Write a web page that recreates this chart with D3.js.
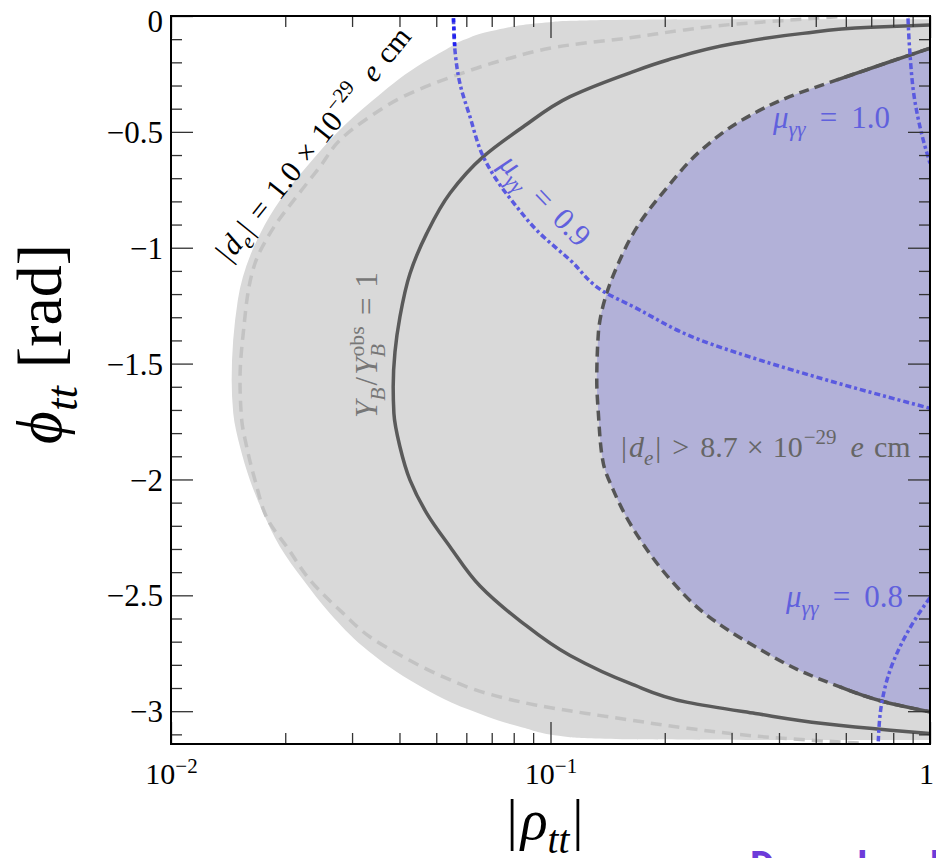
<!DOCTYPE html>
<html lang="en">
<head>
    <meta charset="UTF-8">
    <title>rho_tt phi_tt plane</title>
    <style>
        body{
            margin: 0;
            background: #fff;
        }
        svg{
            display: block;
        }
        .tick text{
            font-family: "Liberation Serif", "DejaVu Serif", serif;
            fill: #000;
        }
        .tick line{
            stroke: #333;
            stroke-width: 1.3px;
        }
    </style>
    <script src="https://d3js.org/d3.v7.min.js"></script>
</head>
<body>
<svg id="figure" width="936" height="858"></svg>
<script>
    // tick labels
    let phiTicks = [-3, -2.5, -2, -1.5, -1, -0.5, 0]
    let phiTickLabels = ["\u22123", "\u22122.5", "\u22122", "\u22121.5", "\u22121", "\u22120.5", "0"]
    let rhoTicks = [0.01, 0.1, 1]
    let rhoTickBase = ["10", "10", "1"]
    let rhoTickExp = ["\u22122", "\u22121", ""]

    // curves, [|rho_tt|, phi_tt], ordered from phi = 0 down to -pi
    let grayEdge = [
        [0.35, -0.014], [0.162, -0.016], [0.113, -0.021], [0.0997, -0.027], [0.0721, -0.06],
        [0.0589, -0.104], [0.0532, -0.144], [0.0444, -0.219], [0.0341, -0.363], [0.0273, -0.506],
        [0.0228, -0.65], [0.0194, -0.794], [0.0172, -0.937], [0.0150, -1.226], [0.01445, -1.571],
        [0.01459, -1.714], [0.0152, -1.859], [0.01615, -2.003], [0.01751, -2.146], [0.01937, -2.29],
        [0.02232, -2.434], [0.02624, -2.578], [0.03211, -2.722], [0.04264, -2.866], [0.06136, -2.995],
        [0.08309, -3.067], [0.1126, -3.112], [0.162, -3.121], [0.35, -3.124]
    ]
    let deLightLine = [
        [0.57, -0.003], [0.409, -0.02], [0.307, -0.035], [0.2256, -0.06], [0.162, -0.094],
        [0.1126, -0.125], [0.0751, -0.19], [0.0566, -0.255], [0.0409, -0.348], [0.0334, -0.435],
        [0.0279, -0.535], [0.0247, -0.65], [0.0221, -0.751], [0.01823, -0.938], [0.01665, -1.067],
        [0.0155, -1.37], [0.0152, -1.571], [0.01536, -1.744], [0.01583, -1.859], [0.01665, -2.003],
        [0.01823, -2.19], [0.02018, -2.29], [0.02324, -2.434], [0.02844, -2.578], [0.0334, -2.679],
        [0.0409, -2.765], [0.0522, -2.852], [0.0679, -2.923], [0.0919, -2.974], [0.1246, -3.01],
        [0.162, -3.038], [0.23, -3.074], [0.409, -3.117], [0.67, -3.139]
    ]
    let ybLine = [
        [1.0, -0.039], [0.698, -0.049], [0.4626, -0.075], [0.307, -0.118], [0.2036, -0.19],
        [0.162, -0.245], [0.1126, -0.348], [0.08477, -0.478], [0.06651, -0.607], [0.05434, -0.765],
        [0.0472, -0.938], [0.04264, -1.111], [0.04011, -1.298], [0.03892, -1.45], [0.0385, -1.6],
        [0.03867, -1.715], [0.04011, -1.859], [0.04264, -2.003], [0.0472, -2.146], [0.05434, -2.29],
        [0.0652, -2.46], [0.0831, -2.61], [0.1126, -2.76], [0.162, -2.88], [0.2299, -2.962],
        [0.3467, -3.01], [0.5224, -3.053], [0.7866, -3.082], [1.0, -3.096]
    ]
    let deBound = [
        [1.0, -0.139], [0.76, -0.205], [0.5685, -0.276], [0.4265, -0.348], [0.3198, -0.449],
        [0.25, -0.578], [0.2036, -0.737], [0.1693, -0.909], [0.1496, -1.082], [0.1406, -1.197],
        [0.1337, -1.369], [0.1324, -1.571], [0.1337, -1.715], [0.1378, -1.931], [0.1464, -2.046],
        [0.162, -2.19], [0.1725, -2.261], [0.2075, -2.434], [0.2547, -2.578], [0.3467, -2.722],
        [0.4717, -2.837], [0.579, -2.895], [0.7564, -2.959], [1.0, -3.003]
    ]
    let mu09Line = [
        [0.0555, -0.01], [0.056, -0.147], [0.0577, -0.29], [0.06136, -0.435], [0.06651, -0.607],
        [0.07214, -0.708], [0.08144, -0.823], [0.0919, -0.924], [0.1126, -1.053], [0.1406, -1.197],
        [0.162, -1.247], [0.2477, -1.398], [0.3565, -1.485], [0.5343, -1.571], [1.0, -1.693]
    ]
    let mu10Line = [[0.875, -0.01], [0.8842, -0.147], [0.9114, -0.363], [0.9497, -0.506], [1.0, -0.636]]
    let mu08Line = [[1.0, -2.51], [0.9224, -2.593], [0.8507, -2.693], [0.785, -2.823], [0.746, -2.966], [0.7307, -3.13]]

    let serif = '"Liberation Serif", "DejaVu Serif", serif'
    let blue = "#5a5ae0"
    let labelBlue = "#6060dd"
    let pLeft = 171, pRight = 930, pTop = 16, pBottom = 744

    let svg = d3.select("#figure")
    let xScale = d3.scaleLog().domain([0.01, 1]).range([pLeft, pRight])
    let yScale = d3.scaleLinear().domain([-Math.PI, 0]).range([pBottom, pTop])

    svg.append("defs").append("clipPath").attr("id", "plotArea")
        .append("rect")
        .attr("x", pLeft).attr("y", pTop)
        .attr("width", pRight - pLeft).attr("height", pBottom - pTop)

    let plot = svg.append("g").attr("clip-path", "url(#plotArea)")

    // every curve is rho as a function of phi, so interpolate monotone in y
    let line = d3.line()
        .x(function (d) { return xScale(d[0]) })
        .y(function (d) { return yScale(d[1]) })
        .curve(d3.curveMonotoneY)

    // regions
    let g0 = grayEdge[0], g1 = grayEdge[grayEdge.length - 1]
    plot.append("path")
        .attr("d", line(grayEdge) + `L${pRight + 5},${yScale(g1[1])}L${pRight + 5},${yScale(g0[1])}Z`)
        .attr("fill", "#d9d9d9")
    plot.append("path").attr("d", line(deBound) + "Z").attr("fill", "#b2b1d8")

    // lines
    plot.append("path").attr("d", line(deLightLine))
        .attr("fill", "none").attr("stroke", "#c3c3c3").attr("stroke-width", 3.5)
        .attr("stroke-dasharray", "11,7")
    plot.append("path").attr("d", line(ybLine))
        .attr("fill", "none").attr("stroke", "#5a5a5a").attr("stroke-width", 3.5)
    plot.append("path").attr("d", line(deBound))
        .attr("fill", "none").attr("stroke", "#555").attr("stroke-width", 3.5)
        .attr("stroke-dasharray", "10,6")
    let solidTop = deBound.filter(function (d) { return d[0] >= 0.55 && d[1] > -1.6 })
    let solidBottom = deBound.filter(function (d) { return d[0] >= 0.55 && d[1] < -1.6 })
    ;[solidTop, solidBottom].forEach(function (pts) {
        plot.append("path").attr("d", line(pts))
            .attr("fill", "none").attr("stroke", "#555").attr("stroke-width", 3.5)
    })
    ;[mu09Line, mu10Line, mu08Line].forEach(function (pts) {
        plot.append("path").attr("d", line(pts))
            .attr("fill", "none").attr("stroke", blue).attr("stroke-width", 3.5)
            .attr("stroke-dasharray", "6,3,3,3")
    })
    // the top end of the 0.9 contour is drawn in pure blue
    plot.append("path").attr("d", line(mu09Line.slice(0, 2)))
        .attr("fill", "none").attr("stroke", "#2222f0").attr("stroke-width", 3.5)
        .attr("stroke-dasharray", "4,4")

    // math labels built from tspans: [text, kind, gap]
    function mathLabel(g, parts, size) {
        let t = g.append("text").attr("font-family", serif).attr("font-size", size)
        let shift = 0
        parts.forEach(function (p) {
            let kind = p[1], target = 0, fs = size
            if (kind.indexOf("sub") >= 0) { target = 0.25 * size; fs = 0.7 * size }
            if (kind.indexOf("sup") >= 0) { target = -0.42 * size; fs = 0.7 * size }
            t.append("tspan")
                .attr("font-size", fs)
                .attr("font-style", kind.indexOf("i") >= 0 ? "italic" : "normal")
                .attr("dx", p[2] || 0)
                .attr("dy", target - shift)
                .text(p[0])
            shift = target
        })
        return t
    }

    let labels = svg.append("g")

    mathLabel(labels.append("g").attr("transform", "translate(321,150) rotate(-51)"), [
        ["|", "r"], ["d", "i", 2], ["e", "isub"], ["|", "r", 2], ["=", "r", 11], ["1.0", "r", 11],
        ["\u00d7", "r", 9], ["10", "r", 9], ["\u221229", "sup", 1], ["e", "i", 15], ["cm", "r", 10]
    ], 30).attr("text-anchor", "middle").attr("fill", "#000")

    mathLabel(labels.append("g").attr("transform", "translate(377,345) rotate(-90)"), [
        ["Y", "i"], ["B", "isub"], ["/", "r", 2], ["Y", "i", 2], ["obs", "sup", 1], ["B", "isub", -31],
        ["=", "r", 29], ["1", "r", 10]
    ], 31).attr("text-anchor", "middle").attr("fill", "#777")

    mathLabel(labels.append("g").attr("transform", "translate(538,207) rotate(46)"), [
        ["\u03bc", "i"], ["\u03b3\u03b3", "isub"], ["=", "r", 13], ["0.9", "r", 13]
    ], 31).attr("text-anchor", "middle").attr("fill", labelBlue)

    mathLabel(labels.append("g").attr("transform", "translate(773,128)"), [
        ["\u03bc", "i"], ["\u03b3\u03b3", "isub"], ["=", "r", 14], ["1.0", "r", 14]
    ], 31).attr("fill", labelBlue)

    mathLabel(labels.append("g").attr("transform", "translate(786,607)"), [
        ["\u03bc", "i"], ["\u03b3\u03b3", "isub"], ["=", "r", 14], ["0.8", "r", 14]
    ], 31).attr("fill", labelBlue)

    mathLabel(labels.append("g").attr("transform", "translate(621,457)"), [
        ["|", "r"], ["d", "i", 2], ["e", "isub"], ["|", "r", 2], [">", "r", 11], ["8.7", "r", 11],
        ["\u00d7", "r", 9], ["10", "r", 9], ["\u221229", "sup", 1], ["e", "i", 14], ["cm", "r", 10]
    ], 30).attr("fill", "#666")

    // axes, ticks pointing inward on all four sides
    let phiMinor = d3.range(-31, 1).map(function (i) { return i / 10 })
        .filter(function (v) { return Math.abs(v * 2 - Math.round(v * 2)) > 1e-6 })
    let rhoMinor = [2, 3, 4, 5, 6, 7, 8, 9].map(function (k) { return k / 100 })
        .concat([2, 3, 4, 5, 6, 7, 8, 9].map(function (k) { return k / 10 }))

    function drawAxis(gen, tx, ty, vals, size, fmt) {
        let g = svg.append("g").attr("transform", `translate(${tx},${ty})`)
            .call(gen.tickValues(vals).tickSize(-size).tickFormat(fmt || ""))
        g.select(".domain").remove()
        return g
    }
    drawAxis(d3.axisLeft(yScale), pLeft, 0, phiMinor, 11)
    drawAxis(d3.axisRight(yScale), pRight, 0, phiMinor, 11)
    drawAxis(d3.axisRight(yScale), pRight, 0, phiTicks, 22)
    drawAxis(d3.axisTop(xScale), 0, pTop, rhoMinor, 11)
    drawAxis(d3.axisTop(xScale), 0, pTop, rhoTicks, 22)
    drawAxis(d3.axisBottom(xScale), 0, pBottom, rhoMinor, 11)

    let yAxis = drawAxis(d3.axisLeft(yScale).tickPadding(8), pLeft, 0, phiTicks, 22,
        function (d, i) { return phiTickLabels[i] })
    yAxis.selectAll("text").attr("font-size", 31)
        .attr("dy", function (d) { return d === 0 ? "0.5em" : "0.34em" })

    let xAxis = drawAxis(d3.axisBottom(xScale).tickPadding(19), 0, pBottom, rhoTicks, 22,
        function () { return "" })
    xAxis.selectAll("text").attr("font-size", 30).each(function (d, i) {
        let t = d3.select(this)
        if (rhoTickExp[i] === "") t.attr("dx", -4)
        t.append("tspan").text(rhoTickBase[i])
        if (rhoTickExp[i] !== "") {
            t.append("tspan").attr("font-size", 21).attr("dy", "-0.55em").text(rhoTickExp[i])
        }
    })

    svg.append("rect")
        .attr("x", pLeft).attr("y", pTop)
        .attr("width", pRight - pLeft).attr("height", pBottom - pTop)
        .attr("fill", "none").attr("stroke", "#000").attr("stroke-width", 2)

    // axis titles
    mathLabel(svg.append("g").attr("transform", "translate(61,344) rotate(-90)"), [
        ["\u03d5", "i"], ["tt", "isub"], ["[rad]", "r", 18]
    ], 64).attr("text-anchor", "middle")

    mathLabel(svg.append("g").attr("transform", "translate(545,839)"), [
        ["|", "r"], ["\u03c1", "i", 3], ["tt", "isub"], ["|", "r", 3]
    ], 56).attr("text-anchor", "middle")

    // cut-off caption at the bottom edge
    svg.append("text")
        .attr("x", 750).attr("y", 879)
        .attr("font-family", "Roboto, sans-serif").attr("font-weight", "bold")
        .attr("font-size", 38).attr("letter-spacing", 3).attr("fill", "#6d3bd9")
        .text("Download")
</script>
</body>
</html>
